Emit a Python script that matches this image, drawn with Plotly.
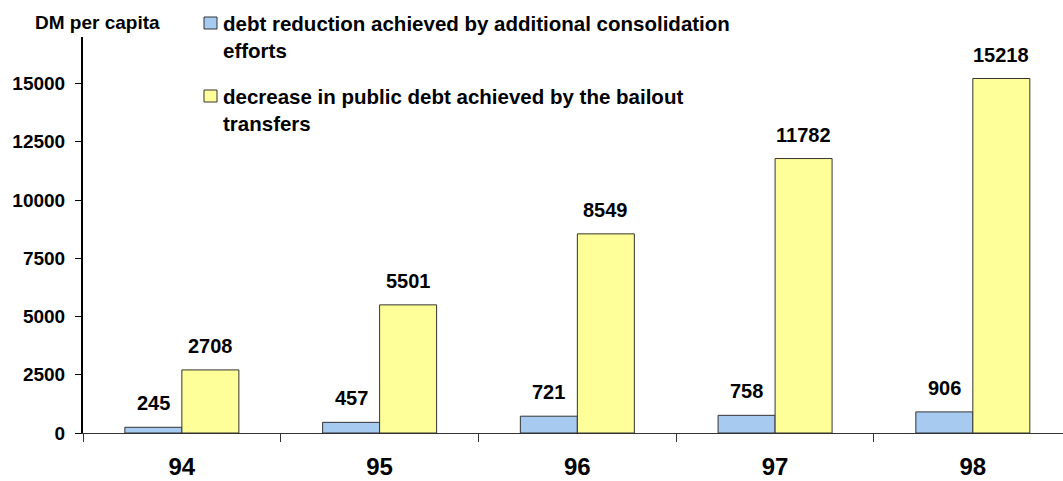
import plotly.graph_objects as go

# Years (x categories) and per-capita values in DM
years = ["94", "95", "96", "97", "98"]
consolidation = [245, 457, 721, 758, 906]
bailout = [2708, 5501, 8549, 11782, 15218]

series_names = [
    "debt reduction achieved by additional consolidation<br>efforts",
    "decrease in public debt achieved by the bailout<br>transfers",
]
series_colors = ["#A6CAF0", "#FFFF99"]
y_ticks = [0, 2500, 5000, 7500, 10000, 12500, 15000]

FONT = "Liberation Sans, Arial, sans-serif"
W, H = 1063, 481
ML, MT, MB = 83, 37, 48
plot_w = W - ML
plot_h = H - MT - MB

def px_x(px):
    return (px - ML) / plot_w

def px_y(py):
    return (H - MB - py) / plot_h

fig = go.Figure()
for name, vals, col in zip(series_names, [consolidation, bailout], series_colors):
    fig.add_trace(go.Bar(
        x=years, y=vals, name=name,
        marker=dict(color=col, line=dict(color="#333333", width=1)),
        showlegend=False,
    ))

# value labels above each bar (x given as category index)
annotations = []
for vals, shift in [(consolidation, -28.5), (bailout, 28.5)]:
    for idx, v in enumerate(vals):
        annotations.append(dict(
            x=idx, y=v, xref="x", yref="y", text=f"<b>{v}</b>",
            showarrow=False, xshift=shift, yshift=11,
            xanchor="center", yanchor="bottom",
            font=dict(family=FONT, size=20, color="black"),
        ))

# axis title
annotations.append(dict(
    x=px_x(97), y=px_y(22), xref="paper", yref="paper",
    text="<b>DM per capita</b>", showarrow=False,
    xanchor="center", yanchor="middle",
    font=dict(family=FONT, size=19, color="black"),
))

# legend: swatches and labels
shapes = []
for i, (name, col) in enumerate(zip(series_names, series_colors)):
    top = 17 + i * 73
    shapes.append(dict(
        type="rect", xref="paper", yref="paper",
        x0=px_x(204), x1=px_x(217), y0=px_y(top), y1=px_y(top + 12),
        fillcolor=col, line=dict(color="#333333", width=1),
    ))
    annotations.append(dict(
        x=px_x(221), y=px_y(top - 7), xref="paper", yref="paper",
        text=f"<b>{name}</b>", showarrow=False, align="left",
        xanchor="left", yanchor="top",
        font=dict(family=FONT, size=20.5, color="black"),
    ))

fig.update_layout(
    width=W, height=H,
    margin=dict(l=ML, r=0, t=MT, b=MB, pad=0, autoexpand=False),
    paper_bgcolor="white", plot_bgcolor="white",
    barmode="group", bargap=0.4235, bargroupgap=0,
    font=dict(family=FONT, color="black"),
    annotations=annotations, shapes=shapes,
    showlegend=False,
)
fig.update_xaxes(
    type="category", range=[-0.5, 4.456], automargin=False,
    showline=True, linecolor="#333333", linewidth=1,
    ticks="outside", tickson="boundaries", ticklen=8, tickwidth=1, tickcolor="#333333",
    tickfont=dict(family=FONT, size=24, color="black", weight="bold"),
    ticklabelstandoff=12,
    showgrid=False, zeroline=False,
)
fig.update_yaxes(
    range=[0, 17000], tickvals=y_ticks, ticktext=[str(t) for t in y_ticks],
    automargin=False,
    showline=True, linecolor="black", linewidth=2,
    ticks="outside", ticklen=6, tickwidth=1, tickcolor="black",
    tickfont=dict(family=FONT, size=19, color="black", weight="bold"),
    ticklabelstandoff=6,
    showgrid=False, zeroline=False,
)

fig.write_html("out.html")
